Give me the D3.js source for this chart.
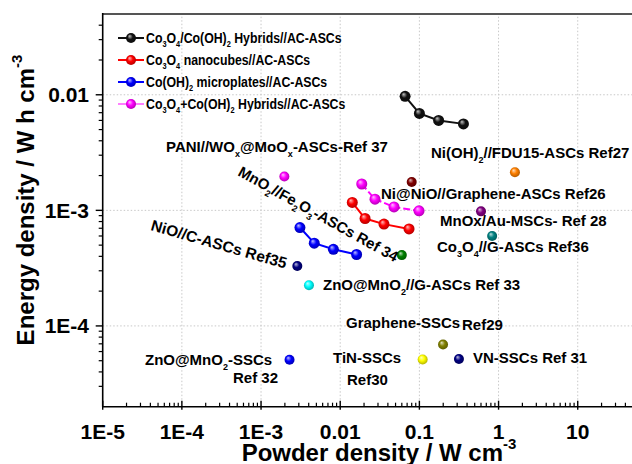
<!DOCTYPE html>
<html>
<head>
<meta charset="utf-8">
<script src="https://cdn.jsdelivr.net/npm/d3@7"></script>
<style>
  body { margin: 0; background: #fff; }
  text { font-family: "Liberation Sans", Arial, sans-serif; font-weight: bold; fill: #000; }
</style>
</head>
<body>
<div id="chart"></div>
<script>
var width = 632,
    height = 464;

// this work: power density (W cm-3) / energy density (Wh cm-3)
var seriesNames = ["Co_3O_4/Co(OH)_2 Hybrids//AC-ASCs", "Co_3O_4 nanocubes//AC-ASCs",
                   "Co(OH)_2 microplates//AC-ASCs", "Co_3O_4+Co(OH)_2 Hybrids//AC-ASCs"];
var seriesColors = ["#111111", "#ff0000", "#0000ff", "#ff00ff"];
var hybridP = [0.066, 0.1, 0.175, 0.36],
    hybridE = [0.0097, 0.0069, 0.006, 0.0056];
var cubesP = [0.0142, 0.0206, 0.0357, 0.074],
    cubesE = [0.00117, 0.00085, 0.00076, 0.00069];
var platesP = [0.0031, 0.0047, 0.0082, 0.0161],
    platesE = [0.00071, 0.00052, 0.00046, 0.000415];
var mixP = [0.0187, 0.0275, 0.0478, 0.099],
    mixE = [0.00169, 0.00125, 0.00107, 0.00099];

// literature points
var refNames = ["PANI Ref37", "Ni(OH)2 Ref27", "Ni@NiO Ref26", "MnOx Ref28", "Co3O4 Ref36",
                "MnO2 Ref34", "NiO Ref35", "ZnO@MnO2//G Ref33", "Graphene Ref29", "TiN Ref30",
                "VN Ref31", "ZnO@MnO2 Ref32"];
var refP = [0.00197, 1.61, 0.08, 0.6, 0.83, 0.06, 0.00287, 0.00403, 0.199, 0.11, 0.316, 0.00229];
var refE = [0.00196, 0.00214, 0.00176, 0.00098, 0.0006, 0.00041, 0.00033, 0.000225,
            0.000069, 0.0000513, 0.0000518, 0.000051];
var refColors = ["#ff00ff", "#ff8000", "#800000", "#800080", "#008080", "#008000",
                 "#000080", "#00ffff", "#808000", "#ffff00", "#000080", "#0000ff"];

var xTicks = [1e-5, 1e-4, 1e-3, 0.01, 0.1, 1, 10],
    xTickLabels = ["1E-5", "1E-4", "1E-3", "0.01", "0.1", "1", "10"];
var yTicks = [1e-4, 1e-3, 0.01],
    yTickLabels = ["1E-4", "1E-3", "0.01"];

// annotations (text, x, y, rotation, size)
var notes = [
  ["PANI//WO_x@MoO_x-ASCs-Ref 37", 166, 152, 0, 15],
  ["Ni(OH)_2//FDU15-ASCs Ref27", 431, 158, 0, 15],
  ["MnO_2//Fe_2O_3-ASCs Ref 34", 237, 175, 29, 15],
  ["Ni@NiO//Graphene-ASCs Ref26", 381, 199, 0, 15],
  ["MnOx/Au-MSCs- Ref 28", 440, 226, 0, 15],
  ["Co_3O_4//G-ASCs  Ref36", 437, 252, 0, 15],
  ["NiO//C-ASCs Ref35", 150, 230, 16, 15.5],
  ["ZnO@MnO_2//G-ASCs Ref 33", 323, 290, 0, 15],
  ["Graphene-SSCs", 346, 328, 0, 15],
  ["Ref29", 462, 330, 0, 15],
  ["TiN-SSCs", 333, 363, 0, 15],
  ["Ref30", 347, 385, 0, 15],
  ["VN-SSCs Ref 31", 473, 363, 0, 15],
  ["ZnO@MnO_2-SSCs", 145, 365, 0, 15],
  ["Ref 32", 233, 383, 0, 15]
];

var svg = d3.select("#chart")
    .append("svg")
    .attr("width", width)
    .attr("height", height);

svg.append("rect").attr("width", width).attr("height", height).attr("fill", "#fff");

var x = d3.scaleLog().domain([1e-5, 100]).range([102.7, 656.9]);
var y = d3.scaleLog().domain([2e-5, 5e-2]).range([406.7, 14]);

var defs = svg.append("defs");
function ball(c) {
  var id = "g" + c.replace("#", "");
  if (!document.getElementById(id)) {
    var g = defs.append("radialGradient").attr("id", id)
        .attr("cx", 0.5).attr("cy", 0.5).attr("r", 0.6)
        .attr("fx", 0.35).attr("fy", 0.3);
    g.append("stop").attr("offset", "0%").attr("stop-color", d3.interpolateRgb(c, "#fff")(0.75));
    g.append("stop").attr("offset", "45%").attr("stop-color", c);
    g.append("stop").attr("offset", "100%").attr("stop-color", d3.color(c).darker(1.3));
  }
  return "url(#" + id + ")";
}

// rich text with _x subscripts
function rich(sel, str, size) {
  var parts = str.split(/(_.)/).filter(function(p) { return p.length; });
  var sub = false;
  parts.forEach(function(p) {
    if (p[0] === "_") {
      sel.append("tspan").attr("dy", size * 0.3).attr("font-size", size * 0.6).text(p[1]);
      sub = true;
    } else {
      var t = sel.append("tspan").text(p);
      if (sub) { t.attr("dy", -size * 0.3); sub = false; }
    }
  });
}

// grid
var grid = svg.append("g");
grid.selectAll("line.gx").data(xTicks.slice(1)).enter().append("line")
    .attr("x1", d => x(d)).attr("x2", d => x(d))
    .attr("y1", y.range()[0]).attr("y2", y.range()[1])
    .attr("stroke", "#c8c8c8").attr("stroke-width", 1).attr("stroke-dasharray", "1.5,2");
grid.selectAll("line.gy").data(yTicks).enter().append("line")
    .attr("x1", x.range()[0]).attr("x2", x.range()[1])
    .attr("y1", d => y(d)).attr("y2", d => y(d))
    .attr("stroke", "#c8c8c8").attr("stroke-width", 1).attr("stroke-dasharray", "1.5,2");

// series
var series = [[hybridP, hybridE], [cubesP, cubesE], [platesP, platesE], [mixP, mixE]];
var line = d3.line().x(d => x(d[0])).y(d => y(d[1]));
series.forEach(function(s, i) {
  var pts = s[0].map((p, j) => [p, s[1][j]]);
  svg.append("path").datum(pts)
      .attr("d", line)
      .attr("fill", "none")
      .attr("stroke", seriesColors[i])
      .attr("stroke-width", 2)
      .attr("stroke-dasharray", i === 3 ? "7,3" : null);
  svg.append("g").selectAll("circle").data(pts).enter().append("circle")
      .attr("cx", d => x(d[0])).attr("cy", d => y(d[1])).attr("r", 5.5)
      .attr("fill", ball(seriesColors[i]));
});

// literature points
svg.append("g").selectAll("circle").data(refP).enter().append("circle")
    .attr("cx", d => x(d)).attr("cy", (d, i) => y(refE[i])).attr("r", 5)
    .attr("fill", (d, i) => ball(refColors[i]));

// frame
var x0 = x.range()[0], x1 = x.range()[1], y0 = y.range()[0], y1 = y.range()[1];
svg.append("line").attr("x1", x0).attr("x2", x1).attr("y1", y1).attr("y2", y1)
    .attr("stroke", "#555").attr("stroke-width", 2);
svg.append("line").attr("x1", x0).attr("x2", x0).attr("y1", y1 - 1).attr("y2", y0)
    .attr("stroke", "#000").attr("stroke-width", 1.6);
svg.append("line").attr("x1", x0).attr("x2", x1).attr("y1", y0).attr("y2", y0)
    .attr("stroke", "#000").attr("stroke-width", 1.6);

// minor ticks
function minors(scale) {
  var out = [], dom = scale.domain();
  for (var e = -6; e <= 2; e++) {
    for (var k = 2; k <= 9; k++) {
      var v = k * Math.pow(10, e);
      if (v > dom[0] * 1.0001 && v < dom[1] * 0.9999) out.push(v);
    }
  }
  return out;
}
svg.append("g").selectAll("line").data(minors(x)).enter().append("line")
    .attr("x1", d => x(d)).attr("x2", d => x(d)).attr("y1", y0).attr("y2", y0 - 4)
    .attr("stroke", "#000").attr("stroke-width", 1.2);
svg.append("g").selectAll("line").data(xTicks.concat([100])).enter().append("line")
    .attr("x1", d => x(d)).attr("x2", d => x(d)).attr("y1", y0 + 3).attr("y2", y0 - 6)
    .attr("stroke", "#000").attr("stroke-width", 1.4);
svg.append("g").selectAll("line").data(minors(y)).enter().append("line")
    .attr("x1", x0).attr("x2", x0 - 4).attr("y1", d => y(d)).attr("y2", d => y(d))
    .attr("stroke", "#000").attr("stroke-width", 1.2);
svg.append("g").selectAll("line").data(yTicks).enter().append("line")
    .attr("x1", x0).attr("x2", x0 - 7).attr("y1", d => y(d)).attr("y2", d => y(d))
    .attr("stroke", "#000").attr("stroke-width", 1.4);

// tick labels
svg.append("g").selectAll("text").data(xTicks).enter().append("text")
    .attr("x", d => x(d)).attr("y", 439)
    .attr("text-anchor", "middle").attr("font-size", 21)
    .text((d, i) => xTickLabels[i]);
svg.append("g").selectAll("text").data(yTicks).enter().append("text")
    .attr("x", 89).attr("y", d => y(d) + 7.5)
    .attr("text-anchor", "end").attr("font-size", 21)
    .text((d, i) => yTickLabels[i]);

// axis titles
var xt = svg.append("text").attr("x", 379).attr("y", 461)
    .attr("text-anchor", "middle").attr("font-size", 24);
xt.append("tspan").text("Powder density / W cm");
xt.append("tspan").attr("dy", -12).attr("font-size", 15).text("-3");

var yt = svg.append("text").attr("transform", "translate(34,200) rotate(-90)")
    .attr("text-anchor", "middle").attr("font-size", 24);
yt.append("tspan").text("Energy density / W h cm");
yt.append("tspan").attr("dy", -12).attr("font-size", 15).text("-3");

// annotations
notes.forEach(function(n) {
  var t = svg.append("text")
      .attr("transform", "translate(" + n[1] + "," + n[2] + ") rotate(" + n[3] + ")")
      .attr("font-size", n[4]);
  rich(t, n[0], n[4]);
});

// legend
var legend = svg.append("g").attr("transform", "translate(118,38)");
seriesNames.forEach(function(name, i) {
  var g = legend.append("g").attr("transform", "translate(0," + (i * 22) + ")");
  g.append("line").attr("x1", 0).attr("x2", 26).attr("stroke", seriesColors[i])
      .attr("stroke-width", i === 3 ? 1 : 2);
  g.append("circle").attr("cx", 13).attr("r", 5).attr("fill", ball(seriesColors[i]));
  var t = g.append("text").attr("transform", "translate(28,5) scale(0.88,1)")
      .attr("font-size", 14);
  rich(t, name, 14);
});
</script>
</body>
</html>
